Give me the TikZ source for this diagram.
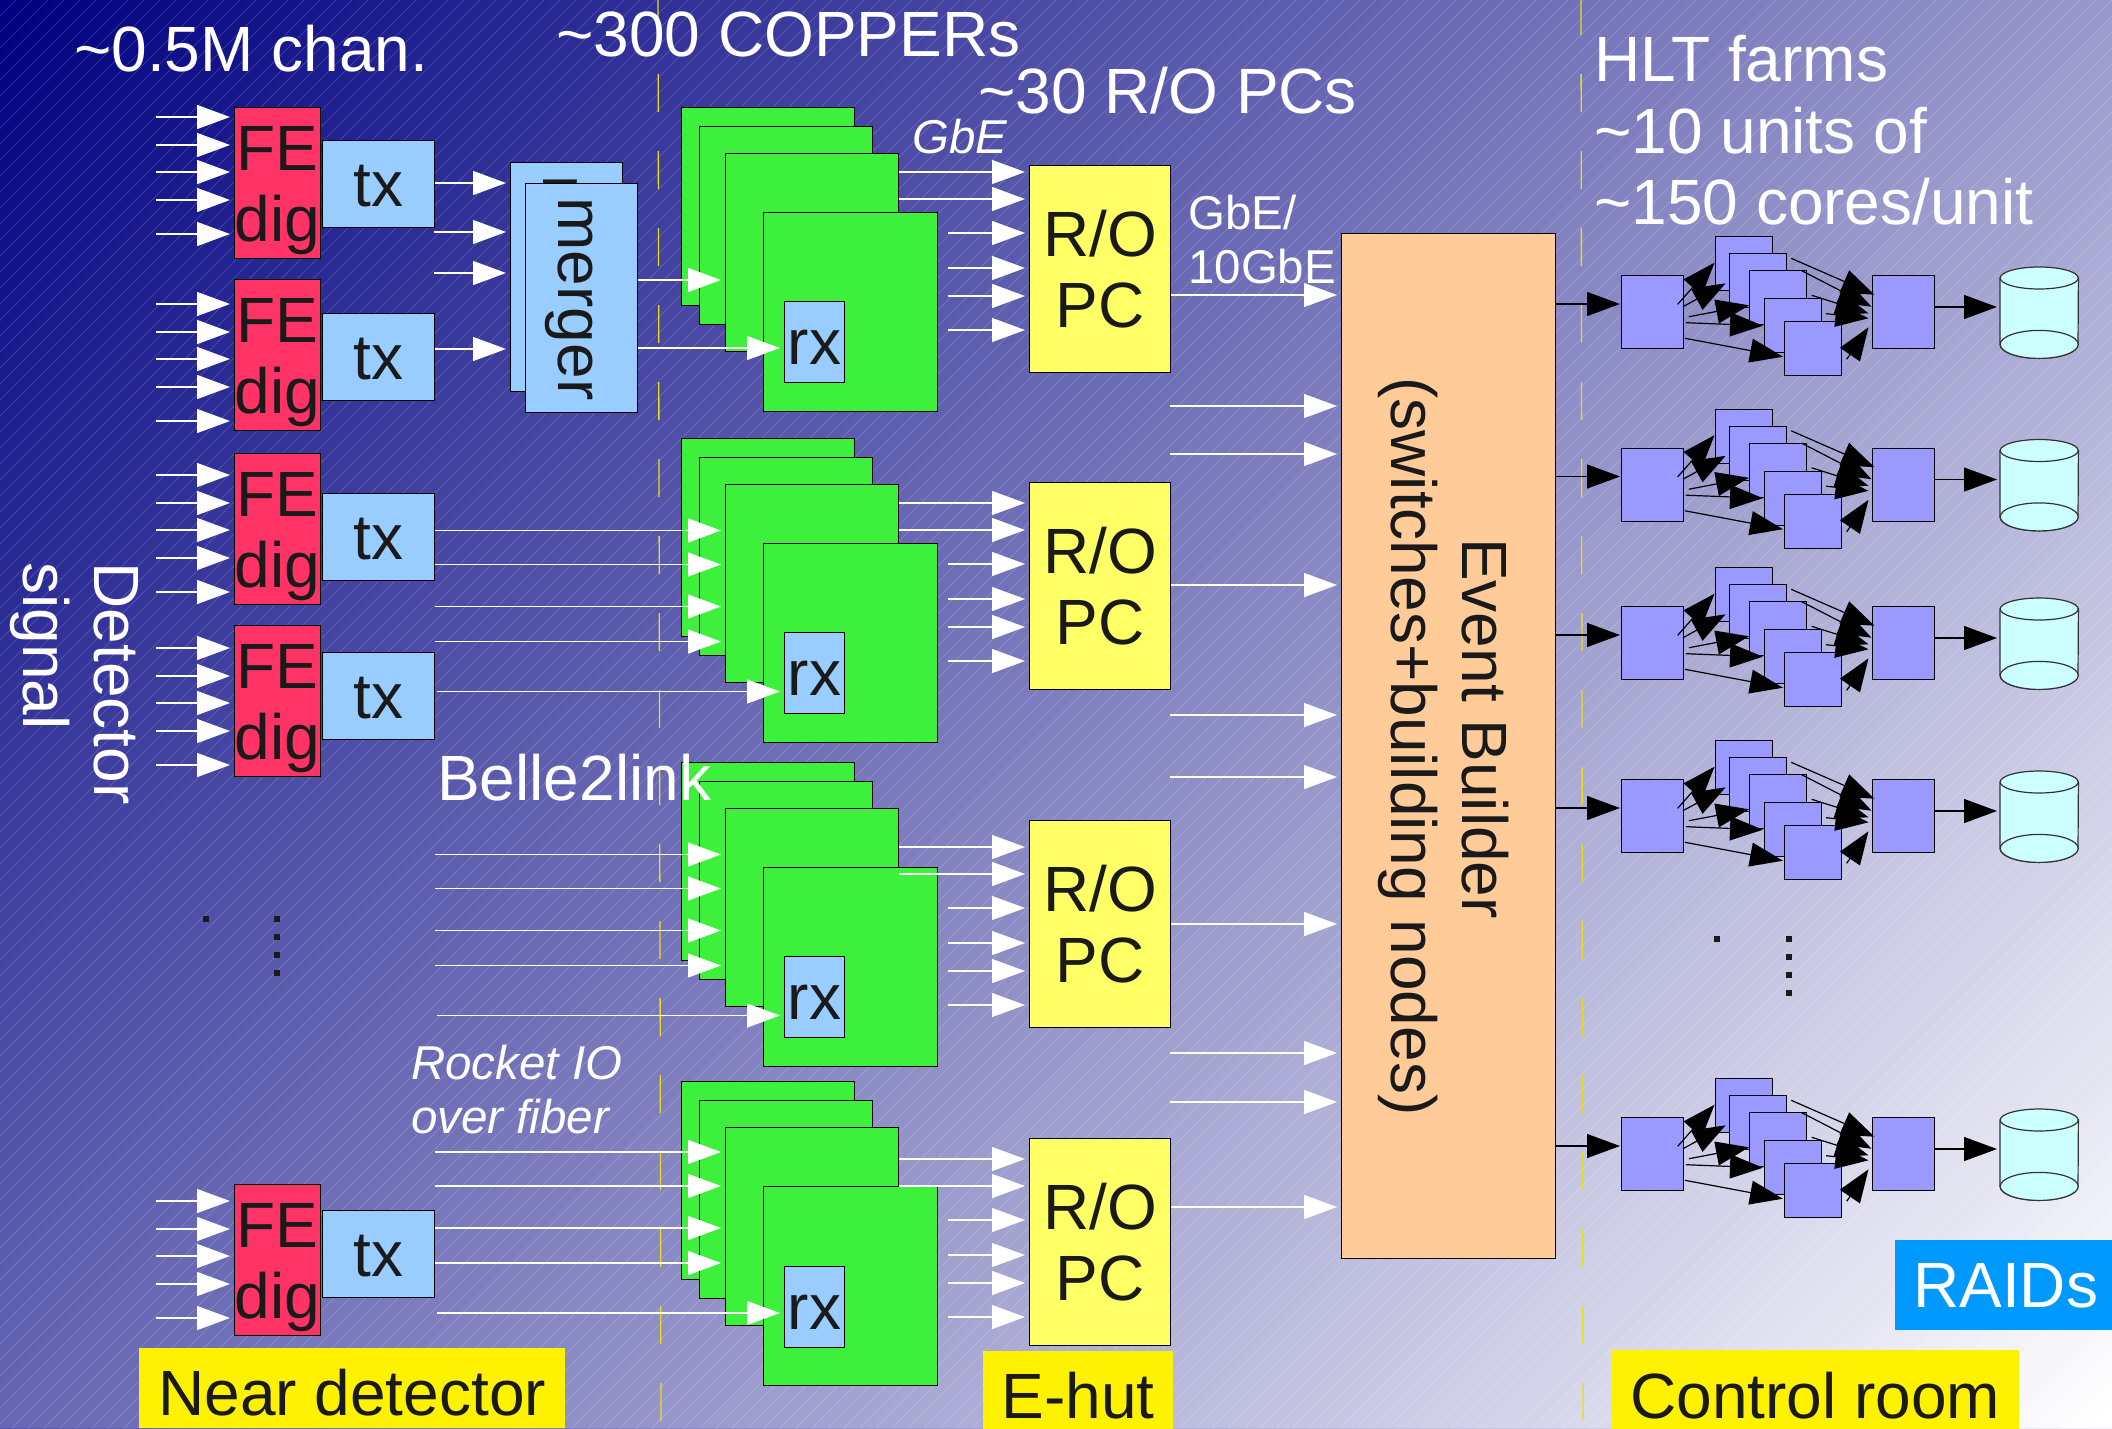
\documentclass[tikz,border=0pt]{standalone}
\usepackage{fontspec}
\setmainfont{Liberation Sans}
\usepackage{xcolor}
\usetikzlibrary{arrows.meta, positioning, calc}
\definecolor{bgnavy}{RGB}{0,0,128}
\definecolor{fered}{RGB}{255,51,102}
\definecolor{linkblue}{RGB}{153,204,255}
\definecolor{copgreen}{RGB}{60,240,60}
\definecolor{pcyellow}{RGB}{255,255,102}
\definecolor{evborange}{RGB}{255,204,153}
\definecolor{hltblue}{RGB}{153,153,255}
\definecolor{diskcyan}{RGB}{204,255,255}
\definecolor{raidblue}{RGB}{0,153,255}
\definecolor{inkblack}{RGB}{26,26,26}
\newcommand{\bigtxt}{\fontsize{64}{71}\selectfont}
\newcommand{\midtxt}{\fontsize{47.5}{54}\selectfont}
\begin{document}
\begin{tikzpicture}[
    x=1pt, y=-1pt,
    block/.style={draw=black, line width=1.2pt, inner sep=0pt, anchor=north west, text=inkblack, font=\bigtxt, align=center},
    febox/.style={block, fill=fered, minimum width=86pt, minimum height=151pt, text height=131pt, text depth=14pt},
    txbox/.style={block, fill=linkblue, minimum width=112pt, minimum height=87pt, text height=45pt, text depth=0pt},
    mergebox/.style={block, fill=linkblue, minimum width=112pt, minimum height=229pt},
    copbox/.style={block, fill=copgreen, minimum width=173pt, minimum height=198pt},
    rxbox/.style={block, fill=linkblue, minimum width=60pt, minimum height=81pt, text height=45pt, text depth=0pt},
    ropcbox/.style={block, fill=pcyellow, minimum width=141pt, minimum height=207pt},
    hltbox/.style={block, fill=hltblue, minimum width=61.5pt, minimum height=73pt},
    corebox/.style={block, fill=hltblue, minimum width=57pt, minimum height=54pt},
    raidbox/.style={inner sep=0pt, anchor=north west, minimum width=78pt, minimum height=91pt},
    diskpart/.style={draw=black!80, line width=1.2pt, fill=diskcyan},
    zonelabel/.style={fill=yellow, inner sep=0pt, anchor=north west, text=inkblack, font=\bigtxt, minimum height=80pt, text height=54pt, text depth=0pt},
    whitetxt/.style={text=white, font=\bigtxt, inner sep=0pt, anchor=base west},
    smalltxt/.style={text=white, font=\midtxt, inner sep=0pt, anchor=base west},
    dotmark/.style={fill=inkblack, inner sep=0pt, minimum size=6pt},
    wire/.style={-{Triangle[length=33pt,width=24pt]}, white, line width=1.3pt, shorten >=4pt},
    blkwire/.style={-{Triangle[length=33pt,width=24pt]}, black, line width=1.2pt},
    hatchline/.style={white, opacity=0.15, line width=0.8pt},
    zoneline/.style={yellow!90!black, line width=1.3pt, dash pattern=on 38pt off 39pt}
  ]
  \useasboundingbox (0,0) rectangle (2112,1428);
  \begin{scope}
    \clip (0,0) rectangle (2112,1428);
    \foreach \p in {0,...,127} {
      \pgfmathsetmacro{\mixp}{\p/1.27}
      \pgfmathsetmacro{\cc}{\p*27.66}
      \fill[white!\mixp!bgnavy] (\cc,0) -- (\cc+4000,0) -- (\cc+4000,1428) -- (\cc-1428,1428) -- cycle;
    }
    \foreach \k in {0,16,...,3536}
      \draw[hatchline] (\k,0) -- (\k-1428,1428);
  \end{scope}
  \draw[zoneline] (658,-3) -- (661,1428);
  \draw[zoneline] (1581,-3) -- (1583,1428);

  % near detector
  \foreach \r/\fy/\ty/\sy in {1/107/140/117, 2/279/313/304, 3/452.6/493/475, 4/625/652/648, 5/1183.5/1210/1201} {
    \node[febox] (fe\r) at (234,\fy) {FE\\dig};
    \node[txbox] (tx\r) at (322,\ty) {tx};
    \foreach \w [count=\i] in {0,28,55,83,117} {
      \pgfmathsetmacro{\yy}{\sy+\w}
      \coordinate (sig\r\i) at (156,\yy);
      \draw[wire] (sig\r\i) -- (fe\r.west |- sig\r\i);
    }
  }
  \node[mergebox] (mrgback) at (510,162) {};
  \node[text=inkblack, font=\bigtxt, rotate=-90, anchor=base west, inner sep=0pt] (mrgbacklabel) at (543,175) {merger};
  \node[mergebox] (mrgfront) at (525,183) {};
  \node[text=inkblack, font=\bigtxt, rotate=-90, anchor=base, inner sep=0pt] (mrglabel) at (558,299) {merger};
  \coordinate (mrgin2) at (434,232);
  \coordinate (mrgin3) at (434,273);
  \draw[wire] (tx1.east |- 0,183) -- (mrgback.west |- 0,183);
  \draw[wire] (mrgin2) -- (mrgback.west |- mrgin2);
  \draw[wire] (mrgin3) -- (mrgback.west |- mrgin3);
  \draw[wire] (tx2.east |- 0,349) -- (mrgback.west |- 0,349);

  % copper stacks
  \foreach \k/\top/\rxoff in {1/107/89, 2/438/89, 3/762/89, 4/1081/80} {
    \node[copbox] (copa\k) at (681,\top) {};
    \node[copbox] (copb\k) at ($(copa\k.north west)+(18,19)$) {};
    \node[copbox] (copc\k) at ($(copa\k.north west)+(44,46)$) {};
    \node[copbox, minimum width=174pt, minimum height=199pt] (copd\k) at ($(copa\k.north west)+(82,105)$) {};
    \node[rxbox] (rx\k) at ($(copd\k.north west)+(21,\rxoff)$) {rx};
  }
  \draw[wire] (mrgfront.east |- 0,280) -- (copc1.west |- 0,280);
  \draw[wire] (mrgfront.east |- 0,348) -- (rx1.west |- 0,348);
  \foreach \k/\off in {2/352.5, 3/676.5, 4/974} {
    \foreach \w [count=\i] in {178,212,254,289} {
      \pgfmathsetmacro{\yy}{\w+\off}
      \coordinate (link\k\i) at (435,\yy);
      \draw[wire] (link\k\i) -- (copc\k.west |- link\k\i);
    }
    \pgfmathsetmacro{\yy}{339+\off}
    \coordinate (link\k5) at (437,\yy);
    \draw[wire] (link\k5) -- (rx\k.west |- link\k5);
  }

  % readout PCs
  \foreach \k/\ry/\off in {1/165/0, 2/482/331, 3/820/675, 4/1138/987} {
    \node[ropcbox] (ropc\k) at (1029,\ry) {R/O\\PC};
    \foreach \w in {172,199} {
      \pgfmathsetmacro{\yy}{\w+\off}
      \draw[wire] (copc\k.east |- 0,\yy) -- (ropc\k.west |- 0,\yy);
    }
    \foreach \w in {233,268,296,330} {
      \pgfmathsetmacro{\yy}{\w+\off}
      \draw[wire, shorten <=10pt] (copd\k.east |- 0,\yy) -- (ropc\k.west |- 0,\yy);
    }
  }

  % event builder
  \node[block, fill=evborange, minimum width=214pt, minimum height=1025pt] (evb) at (1341,233) {};
  \node[text=inkblack, font=\bigtxt, rotate=-90, align=center, inner sep=0pt] (evblabel) at (1443.5,746.5) {Event Builder\hspace*{36pt}\\(switches+building nodes)};
  \foreach \k/\yy in {1/295, 2/585, 3/924, 4/1207}
    \draw[wire] (ropc\k.east |- 0,\yy) -- (evb.west |- 0,\yy);
  \foreach \i/\yy in {1/406,2/454,3/715,4/777,5/1053,6/1102} {
    \coordinate (evbin\i) at (1170,\yy);
    \draw[wire] (evbin\i) -- (evb.west |- evbin\i);
  }

  % HLT farms
  \foreach \h/\off in {1/0, 2/172.5, 3/331, 4/504, 5/842} {
    \pgfmathsetmacro{\yin}{275+\off}
    \node[hltbox] (hltin\h) at (1621,\yin) {};
    \node[hltbox] (hltout\h) at (1872,\yin) {};
    \foreach \c/\cx/\cy in {1/1715/236, 2/1729/253, 3/1749/270, 4/1763.5/298, 5/1784/321} {
      \pgfmathsetmacro{\ycore}{\cy+\off}
      \node[corebox] (core\h\c) at (\cx,\ycore) {};
    }
    \foreach \sx/\sy/\c/\tx/\ty in {56.7/29.3/1/-0.5/26.7, 62/31.7/2/-3.4/30.3, 67.9/41.7/3/0/35.3, 64.9/47.7/4/-0.5/27.7, 64/63.3/5/-1/35.7}
      \draw[blkwire] ($(hltin\h.north west)+(\sx,\sy)$) -- ($(core\h\c.north west)+(\tx,\ty)$);
    \foreach \c/\sx/\sy/\tx/\ty in {1/18/22.3/2.5/19.7, 2/14.5/17.7/-0.5/31.7, 3/4.5/25.3/-3.5/38.3, 4/4.4/15.7/-3.5/43.3, 5/4.5/38.3/-3.5/52.3}
      \draw[blkwire] ($(core\h\c.north east)+(\sx,\sy)$) -- ($(hltout\h.north west)+(\tx,\ty)$);
    \pgfmathsetmacro{\yy}{304+\off}
    \draw[blkwire, shorten >=1pt] (evb.east |- 0,\yy) -- (hltin\h.west |- 0,\yy);
    \pgfmathsetmacro{\yd}{267+\off}
    \node[raidbox] (raid\h) at (2000,\yd) {};
    \draw[diskpart] ($(raid\h.north west)+(0,11)$) -- ($(raid\h.south west)+(0,-14)$)
      arc[start angle=180, end angle=0, x radius=39, y radius=14]
      -- ($(raid\h.north east)+(0,11)$) -- cycle;
    \draw[diskpart] ($(raid\h.north)+(0,11)$) ellipse [x radius=39, y radius=11];
    \draw[diskpart] ($(raid\h.south)+(0,-14)$) ellipse [x radius=39, y radius=14];
    \pgfmathsetmacro{\yy}{307+\off}
    \draw[blkwire, shorten >=3pt] (hltout\h.east |- 0,\yy) -- (raid\h.west |- 0,\yy);
  }

  % dots
  \node[dotmark] (dotl) at (205.5,919) {};
  \foreach \i/\yy in {1/919, 2/937, 3/955, 4/973}
    \node[dotmark] (dotla\i) at (277,\yy) {};
  \node[dotmark] (dotr) at (1717,939) {};
  \foreach \i/\yy in {1/939, 2/957, 3/975, 4/993}
    \node[dotmark] (dotra\i) at (1789,\yy) {};

  % labels
  \node[whitetxt] (chans) at (74,71) {\textasciitilde0.5M chan.};
  \node[whitetxt] (coppers) at (556,56) {\textasciitilde300 COPPERs};
  \node[whitetxt] (ropcs) at (978,113) {\textasciitilde30 R/O PCs};
  \node[smalltxt, font=\midtxt\itshape] (gbe) at (912,153) {GbE};
  \node[smalltxt] (gbea) at (1188,229) {GbE/};
  \node[smalltxt] (gbeb) at (1188,283) {10GbE};
  \node[whitetxt] (belle) at (437,800) {Belle2link};
  \node[smalltxt, font=\midtxt\itshape] (rocketa) at (411,1079) {Rocket IO};
  \node[smalltxt, font=\midtxt\itshape] (rocketb) at (411,1133) {over fiber};
  \node[whitetxt] (hlta) at (1594,81) {HLT farms};
  \node[whitetxt] (hltb) at (1594,153) {\textasciitilde10 units of};
  \node[whitetxt] (hltc) at (1594,224) {\textasciitilde150 cores/unit};
  \node[text=white, font=\bigtxt, rotate=-90, align=left, inner sep=0pt] (detsig) at (74.5,683.5) {Detector\\signal};
  \node[zonelabel, minimum width=426pt] (nearlabel) at (139,1348) {Near detector};
  \node[zonelabel, minimum width=190pt] (ehutlabel) at (983,1351) {E-hut};
  \node[zonelabel, minimum width=408pt, text height=56pt] (ctrllabel) at (1611,1350) {Control room};
  \node[fill=raidblue, text=white, font=\bigtxt, anchor=north west, inner sep=0pt, inner xsep=18pt, text width=199pt, minimum height=90pt, text height=44pt, text depth=0pt] (raidlabel) at (1895,1240) {RAIDs};
\end{tikzpicture}
\end{document}
